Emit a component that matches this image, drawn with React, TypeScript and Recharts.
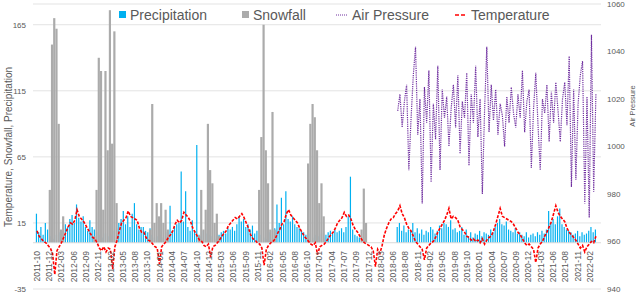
import React from 'react';
import {
  ComposedChart,
  Bar,
  Line,
  XAxis,
  YAxis,
  CartesianGrid,
  ReferenceLine,
} from 'recharts';

// one sample every half month, starting 2011-10-01 (x unit = days)
const HALF_MONTH_DAYS = 15.22;
// Excel put a date label every 84 days
const TICK_STEP_DAYS = 84;

const TICK_LABELS = [
  '2011-10', '2011-12', '2012-03', '2012-06', '2012-09', '2012-11', '2013-02', '2013-05',
  '2013-08', '2013-10', '2014-01', '2014-04', '2014-07', '2014-10', '2014-12', '2015-03',
  '2015-06', '2015-09', '2015-11', '2016-02', '2016-05', '2016-08', '2016-10', '2017-01',
  '2017-04', '2017-07', '2017-09', '2017-12', '2018-03', '2018-06', '2018-08', '2018-11',
  '2019-02', '2019-05', '2019-08', '2019-10', '2020-01', '2020-04', '2020-07', '2020-09',
  '2020-12', '2021-03', '2021-06', '2021-08', '2021-11', '2022-02',
];

const LEFT_TICKS = [-35, 15, 65, 115, 165];
const RIGHT_TICKS = [940, 960, 980, 1000, 1020, 1040, 1060];

// each line = Oct..Sep season, two values per month
const TEMPERATURE = [
  9, 5, 3, 1, 0, -2, -4, -8, -24, -6, -3, 0, 4, 8, 12, 15, 14, 17, 25, 20, 18, 16, 13, 10,
  7, 4, 3, 0, -4, -6, -3, -7, -4, -5, -20, -3, 2, 9, 15, 17, 19, 24, 20, 19, 18, 17, 11, 8,
  8, 4, 2, 1, -1, -3, -4, -16, -3, -1, 1, 4, 6, 9, 14, 17, 15, 17, 23, 21, 19, 16, 11, 8,
  5, 2, 1, -2, -3, -1, -11, -3, -2, 0, 2, 5, 7, 9, 13, 15, 17, 19, 18, 20, 22, 19, 15, 11,
  6, 3, 2, 0, -1, -4, -17, -5, -2, 0, 1, 3, 7, 10, 14, 16, 22, 25, 21, 19, 17, 15, 11, 8,
  5, 3, 1, -1, -2, 0, -9, -3, -2, -1, 1, 4, 6, 8, 11, 15, 17, 19, 23, 20, 21, 18, 13, 10,
  8, 5, 2, 0, -1, -2, -3, -6, -18, -5, -8, -2, 6, 11, 15, 18, 19, 22, 24, 28, 22, 19, 14, 11,
  9, 5, 1, -1, -3, -5, -13, -4, -2, 0, 1, 4, 8, 11, 14, 17, 21, 26, 18, 20, 19, 17, 12, 10,
  8, 5, 4, 2, 3, 1, 2, 0, 3, -1, 2, 4, 5, 9, 14, 20, 26, 20, 19, 18, 17, 16, 14, 11,
  8, 6, 3, 0, -2, -1, -3, -5, -15, -4, -1, 1, 5, 8, 12, 16, 22, 28, 23, 20, 18, 16, 11, 8,
  6, 4, 2, -1, -4, -2, -7, -3, -1, 1, 0, 5,
];

const PRECIPITATION = [
  22, 8, 12, 6, 15, 10, 5, 4, 3, 6, 8, 5, 9, 14, 12, 18, 21, 15, 29, 19, 16, 20, 12, 9,
  17, 12, 10, 8, 6, 9, 4, 7, 5, 8, 6, 9, 11, 15, 18, 24, 14, 20, 12, 22, 30, 14, 10, 12,
  12, 9, 8, 11, 6, 4, 5, 3, 6, 4, 8, 8, 28, 9, 12, 14, 15, 54, 16, 39, 12, 9, 17, 9,
  74, 6, 5, 9, 7, 4, 6, 5, 3, 7, 6, 8, 9, 7, 11, 10, 12, 9, 14, 20, 16, 18, 12, 14,
  10, 13, 7, 9, 5, 6, 4, 3, 6, 8, 9, 11, 29, 15, 34, 14, 39, 18, 16, 20, 14, 12, 11, 9,
  8, 6, 5, 7, 4, 6, 3, 5, 7, 4, 6, 8, 9, 7, 10, 8, 9, 11, 8, 12, 20, 50, 10, 6,
  5, 4, 3, 2, null, null, null, null, null, null, null, null, null, null, null, null, null, null, 12, 15, 9, 13, 8, 10,
  9, 15, 8, 11, 7, 10, 6, 9, 8, 12, 10, 7, 9, 13, 11, 15, 14, 12, 17, 10, 11, 8, 9, 12,
  6, 10, 5, 8, 4, 7, 6, 9, 5, 8, 7, 6, 10, 8, 12, 15, 18, 14, 13, 16, 10, 9, 8, 11,
  7, 8, 6, 5, 8, 4, 6, 7, 5, 8, 6, 9, 7, 10, 24, 15, 18, 14, 20, 26, 14, 12, 10, 9,
  8, 6, 7, 9, 5, 8, 6, 7, 9, 12, 8, 10,
];

const SNOWFALL = [
  0, 0, 0, 0, 0, 0, 40, 150, 170, 162, 90, 10, 20, 0, 0, 0, 0, 0, 0, 0, 0, 0, 0, 0,
  0, 0, 5, 40, 140, 130, 25, 130, 70, 176, 75, 160, 30, 0, 0, 0, 0, 0, 0, 0, 0, 0, 0, 0,
  0, 0, 0, 10, 105, 15, 30, 20, 30, 15, 25, 10, 0, 0, 0, 0, 0, 0, 0, 0, 0, 0, 0, 0,
  0, 5, 40, 10, 25, 90, 55, 45, 15, 22, 5, 0, 0, 0, 0, 0, 0, 0, 0, 0, 0, 0, 0, 0,
  0, 0, 0, 0, 40, 80, 165, 70, 45, 10, 99, 10, 0, 0, 0, 0, 0, 0, 0, 0, 0, 0, 0, 0,
  0, 0, 60, 90, 105, 95, 70, 30, 45, 20, 0, 0, 0, 0, 0, 0, 0, 0, 0, 0, 0, 0, 0, 0,
  0, 0, 10, 41, 15, 0, 0, 0, 0, 0, 0, 0, 0, 0, 0, 0, 0, 0, 0, 0, 0, 0, 0, 0,
  0, 0, 0, 0, 0, 0, 0, 0, 0, 0, 0, 0, 0, 0, 0, 0, 0, 0, 0, 0, 0, 0, 0, 0,
  0, 0, 0, 0, 0, 0, 0, 0, 0, 0, 0, 0, 0, 0, 0, 0, 0, 0, 0, 0, 0, 0, 0, 0,
  0, 0, 0, 0, 0, 0, 0, 0, 0, 0, 0, 0, 0, 0, 0, 0, 0, 0, 0, 0, 0, 0, 0, 0,
  0, 0, 0, 0, 0, 0, 0, 0, 0, 0, 0, 0,
];

// air pressure only recorded from 2018-07 (sample 162) on
const PRESSURE_START = 162;
const AIR_PRESSURE = [
  1015, 1022, 1008, 1019, 1026, 990, 1012, 1030, 1042, 1005,
  1020, 976, 1025, 1010, 1032, 985, 1018, 1003, 1034, 990,
  1024, 1012, 1021, 1000, 1016, 1026, 1008, 1030, 997, 1019,
  1012, 1031, 992, 1022, 1010, 1034, 1004, 1020, 980, 1015,
  1042, 1006, 1026, 1011, 1024, 1005, 1018, 1013, 1000, 1021,
  1010, 1025, 1014, 1008, 1022, 1012, 1032, 1006, 1019, 1024,
  991, 1016, 1031, 1009, 990, 1020, 1014, 1026, 1002, 1023,
  1010, 1027, 1015, 1002, 1020, 1027, 1009, 1038, 983, 1024,
  986, 1018, 1030, 1036, 976, 1021, 970, 1047, 981, 1022,
];

const data = TEMPERATURE.map((temperature, i) => ({
  day: i * HALF_MONTH_DAYS,
  temperature,
  precipitation: PRECIPITATION[i],
  snowfall: SNOWFALL[i] || null,
  pressure: i >= PRESSURE_START ? AIR_PRESSURE[i - PRESSURE_START] : null,
}));

const xTicks = TICK_LABELS.map((_, k) => k * TICK_STEP_DAYS);

const FONT = '"Liberation Sans", Arial, sans-serif';
const TEXT = '#595959';

// the category axis crosses at 0, so its labels sit up inside the plot
const DateTick = ({ x, y, payload }: any) => {
  const label = TICK_LABELS[Math.round(payload.value / TICK_STEP_DAYS)];
  return (
    <text
      transform={`translate(${x},${y - 38}) rotate(-90)`}
      textAnchor="end"
      dy="0.33em"
      fontSize={8.5}
      fill={TEXT}
      fontFamily={FONT}
    >
      {label}
    </text>
  );
};

const LegendItem = ({ left, icon, label }: { left: number; icon: React.ReactNode; label: string }) => (
  <div
    style={{
      position: 'absolute',
      left,
      top: 6,
      height: 17,
      display: 'flex',
      alignItems: 'center',
      gap: 4,
      fontSize: 14,
      color: TEXT,
      whiteSpace: 'nowrap',
    }}
  >
    {icon}
    <span>{label}</span>
  </div>
);

const App = () => {
  return (
    <div style={{ position: 'absolute', left: 0, top: 0, width: 640, height: 294, fontFamily: FONT, background: '#fff' }}>
      <ComposedChart
        width={640}
        height={294}
        data={data}
        margin={{ top: 4, right: 0, bottom: 4, left: 0 }}
        barGap={-1.7}
      >
        <CartesianGrid vertical={false} stroke="#e3e3e3" />
        <XAxis
          dataKey="day"
          type="number"
          domain={[-27, 3855]}
          ticks={xTicks}
          interval={0}
          height={1}
          tickSize={0}
          tickMargin={0}
          axisLine={false}
          tickLine={false}
          tick={<DateTick />}
        />
        <YAxis
          domain={[-35, 180.7]}
          ticks={LEFT_TICKS}
          interval={0}
          width={33}
          axisLine={false}
          tickLine={false}
          tickSize={6}
          tickMargin={1}
          allowDataOverflow
          tick={{ fontSize: 8, fill: TEXT, fontFamily: FONT }}
        />
        <YAxis
          yAxisId="right"
          orientation="right"
          domain={[940, 1060]}
          ticks={RIGHT_TICKS}
          interval={0}
          width={39}
          axisLine={false}
          tickLine={false}
          tickSize={6}
          tickMargin={0}
          allowDataOverflow
          tick={{ fontSize: 8, fill: TEXT, fontFamily: FONT }}
        />
        <ReferenceLine y={0} stroke="#d9d9d9" />
        {/* thin blue columns, wider gray ones centred on the same date */}
        <Bar dataKey="precipitation" fill="#00b0f0" barSize={1.2} isAnimationActive={false} />
        <Bar dataKey="snowfall" fill="#ababab" barSize={2.2} isAnimationActive={false} />
        <Line
          yAxisId="right"
          dataKey="pressure"
          stroke="#7030a0"
          strokeWidth={1.2}
          strokeDasharray="1.2 1"
          dot={false}
          connectNulls={false}
          isAnimationActive={false}
        />
        <Line
          dataKey="temperature"
          stroke="#ff0000"
          strokeWidth={1.6}
          strokeDasharray="3 1.5"
          dot={false}
          isAnimationActive={false}
        />
      </ComposedChart>

      <svg
        width={640}
        height={294}
        style={{ position: 'absolute', left: 0, top: 0, pointerEvents: 'none' }}
      >
        <text
          transform="translate(8,147) rotate(-90)"
          textAnchor="middle"
          dy="0.35em"
          fontSize={10}
          fill={TEXT}
          fontFamily={FONT}
        >
          Temperature, Snowfall, Precipitation
        </text>
        <text
          transform="translate(632,106) rotate(-90)"
          textAnchor="middle"
          dy="0.35em"
          fontSize={7.5}
          fill={TEXT}
          fontFamily={FONT}
        >
          Air Pressure
        </text>
      </svg>

      <LegendItem
        left={119}
        label="Precipitation"
        icon={<span style={{ width: 7, height: 7, background: '#00b0f0', display: 'inline-block' }} />}
      />
      <LegendItem
        left={242}
        label="Snowfall"
        icon={<span style={{ width: 7, height: 7, background: '#ababab', display: 'inline-block' }} />}
      />
      <LegendItem
        left={336}
        label="Air Pressure"
        icon={
          <svg width={12} height={4}>
            <line x1={0} y1={2} x2={12} y2={2} stroke="#7030a0" strokeWidth={1} strokeDasharray="1 1" />
          </svg>
        }
      />
      <LegendItem
        left={455}
        label="Temperature"
        icon={
          <svg width={12} height={4}>
            <line x1={0} y1={2} x2={12} y2={2} stroke="#ff0000" strokeWidth={1.5} strokeDasharray="4 2" />
          </svg>
        }
      />
    </div>
  );
};

export default App;
